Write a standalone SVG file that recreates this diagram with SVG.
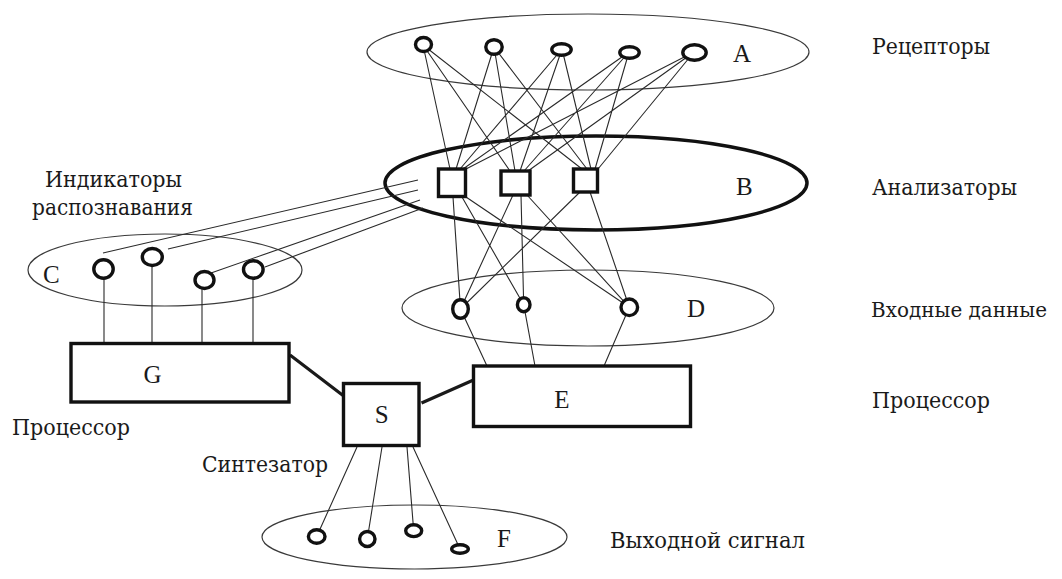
<svg xmlns="http://www.w3.org/2000/svg" width="1062" height="579" viewBox="0 0 1062 579">
<style>
.thin{fill:none;stroke:#2a2a2a;stroke-width:1.1}
.thick{fill:none;stroke:#1a1a1a;stroke-width:3.2}
.grp{fill:none;stroke:#3a3a3a;stroke-width:1.2}
.grpB{fill:none;stroke:#111;stroke-width:3.5}
.cir{fill:#fff;stroke:#111;stroke-width:3.4}
.box{fill:#fff;stroke:#111;stroke-width:3.4}
text{font-family:"Liberation Serif","Times New Roman",serif;font-size:25px;fill:#1a1a1a}
.lbl{font-family:"DejaVu Serif",serif;font-size:22.5px}
</style>
<rect width="1062" height="579" fill="#fff"/>
<g id="groups">
<ellipse id="ellA" class="grp" cx="588" cy="52" rx="221" ry="38"/>
<ellipse id="ellB" class="grpB" cx="596" cy="183" rx="211" ry="47"/>
<ellipse id="ellC" class="grp" cx="165" cy="270" rx="137" ry="36"/>
<ellipse id="ellD" class="grp" cx="588" cy="308" rx="186" ry="38"/>
<ellipse id="ellF" class="grp" cx="414.5" cy="537" rx="152.5" ry="32"/>
</g>
<g id="connectors">
<path class="thin" d="M423,45L450,169M423,45L510,171M423,45L582,169
M494,47L456,169M494,47L515,171M494,47L587,169
M562,49L460,169M562,49L520,171M562,49L591,169
M629,52L463,169M629,52L524,171M629,52L595,169
M694,52L466,169M694,52L528,171M694,52L598,169"/>
<path class="thin" d="M453,197L460.5,309M462,197L523.7,304.7M466,197L629.3,307.3
M513,195L460.5,309M521,195L523.7,304.7M527,195L629.3,307.3
M580,192L460.5,309M590,192L629.3,307.3"/>
<path class="thin" d="M103,253L418,180M168,249L418,190M211,273L420,200M265,267L423,208"/>
<path class="thin" d="M104,269V343M152,257V343M202,280V343M253,269V343"/>
<path class="thin" d="M460.5,309L487,366M523.7,304.7L535,366M629.3,307.3L604,366"/>
<path class="thin" d="M357,447L316.7,536.5M382,447L367.3,539M407,447L413.7,530.7M413,447L460,549"/>
<path class="thick" d="M290,355L345,397M421.5,403L473.5,380"/>
</g>
<g id="nodeA">
<ellipse class="cir" cx="423.5" cy="44.5" rx="8" ry="7"/>
<ellipse class="cir" cx="494" cy="47" rx="8.2" ry="7.3"/>
<ellipse class="cir" cx="561.5" cy="49.5" rx="9.7" ry="5.8"/>
<ellipse class="cir" cx="629.5" cy="52.5" rx="9.7" ry="5.8"/>
<ellipse class="cir" cx="694.5" cy="52.5" rx="11.7" ry="7.7"/>
<text x="733" y="61.5">A</text>
</g>
<g id="nodeB">
<rect class="box" x="438.5" y="169" width="27" height="27.5"/>
<rect class="box" x="501" y="171" width="29" height="24"/>
<rect class="box" x="573.5" y="169" width="24" height="23"/>
<text x="736" y="195">B</text>
</g>
<g id="nodeC">
<ellipse class="cir" cx="103.5" cy="269" rx="9.7" ry="9.2"/>
<ellipse class="cir" cx="152.3" cy="257" rx="10" ry="8.5"/>
<ellipse class="cir" cx="204.5" cy="280" rx="9.5" ry="8.5"/>
<ellipse class="cir" cx="253.3" cy="269.5" rx="9.8" ry="8.7"/>
<text x="43" y="283">C</text>
</g>
<g id="nodeD">
<ellipse class="cir" cx="460.5" cy="309" rx="7.8" ry="9.3"/>
<ellipse class="cir" cx="523.7" cy="304.7" rx="6.3" ry="7"/>
<ellipse class="cir" cx="629.3" cy="307.3" rx="8.3" ry="8.3"/>
<text x="687" y="317">D</text>
</g>
<g id="nodeE">
<rect class="box" x="473.5" y="366" width="217" height="60.5"/>
<text x="562" y="408" text-anchor="middle">E</text>
</g>
<g id="nodeG">
<rect class="box" x="71" y="343.5" width="218" height="58.5"/>
<text x="152.5" y="383" text-anchor="middle">G</text>
</g>
<g id="nodeS">
<rect class="box" x="343.5" y="383.5" width="75.5" height="62"/>
<text x="381.7" y="423" text-anchor="middle">S</text>
</g>
<g id="nodeF">
<ellipse class="cir" cx="316.7" cy="536.5" rx="8.3" ry="6.8"/>
<ellipse class="cir" cx="367.3" cy="539" rx="7.7" ry="7.5"/>
<ellipse class="cir" cx="413.7" cy="530.7" rx="8" ry="5.9"/>
<ellipse class="cir" cx="460" cy="549" rx="8.3" ry="4.3"/>
<text x="497" y="547">F</text>
</g>
<g id="labels">
<text class="lbl" x="872" y="54" textLength="118" lengthAdjust="spacingAndGlyphs">Рецепторы</text>
<text class="lbl" x="872" y="195" textLength="145" lengthAdjust="spacingAndGlyphs">Анализаторы</text>
<text class="lbl" x="871" y="317" style="font-size:20px" textLength="176" lengthAdjust="spacingAndGlyphs">Входные данные</text>
<text class="lbl" x="872" y="408" textLength="118" lengthAdjust="spacingAndGlyphs">Процессор</text>
<text class="lbl" x="610" y="548" textLength="195" lengthAdjust="spacingAndGlyphs">Выходной сигнал</text>
<text class="lbl" x="12" y="435" textLength="118" lengthAdjust="spacingAndGlyphs">Процессор</text>
<text class="lbl" x="202" y="472" textLength="126" lengthAdjust="spacingAndGlyphs">Синтезатор</text>
<text class="lbl" x="45" y="187" textLength="137" lengthAdjust="spacingAndGlyphs">Индикаторы</text>
<text class="lbl" x="32" y="215" textLength="161" lengthAdjust="spacingAndGlyphs">распознавания</text>
</g>
</svg>
